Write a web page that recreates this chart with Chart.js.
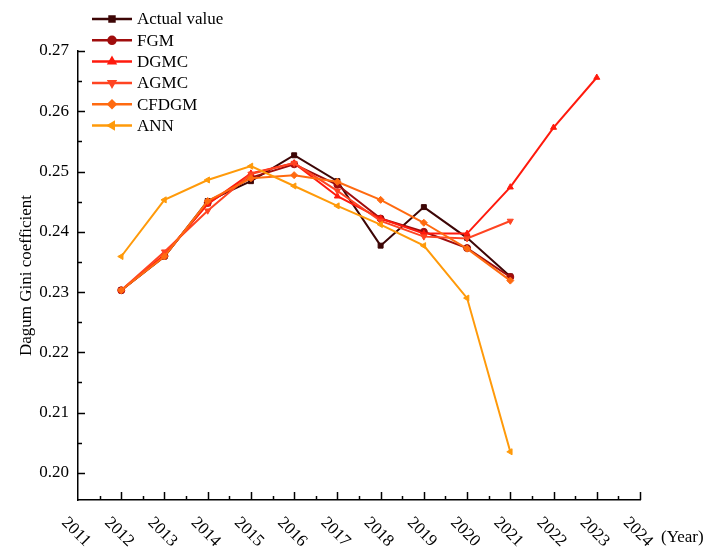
<!DOCTYPE html>
<html>
<head>
<meta charset="utf-8">
<script src="https://cdn.jsdelivr.net/npm/chart.js@4.4.0/dist/chart.umd.min.js"></script>
<style>
  html, body { margin: 0; padding: 0; background: #ffffff; }
  #wrap { width: 707px; height: 551px; }
</style>
</head>
<body>
<div id="wrap"><canvas id="chart" width="707" height="551"></canvas></div>
<script>
// Observed years and forecast horizon
const years = [2012, 2013, 2014, 2015, 2016, 2017, 2018, 2019, 2020, 2021];
const dgmcYears = [2012, 2013, 2014, 2015, 2016, 2017, 2018, 2019, 2020, 2021, 2022, 2023];

// Dagum Gini coefficient: observed values and model fits
const actualValue = [0.2303, 0.2359, 0.2451, 0.2484, 0.2527, 0.2484, 0.2377, 0.2441, 0.2390, 0.2326];
const fgm         = [0.2303, 0.2360, 0.2448, 0.2490, 0.2512, 0.2478, 0.2422, 0.2400, 0.2373, 0.2325];
const dgmc        = [0.2303, 0.2362, 0.2446, 0.2497, 0.2514, 0.2459, 0.2422, 0.2397, 0.2397, 0.2474, 0.2573, 0.2656];
const agmc        = [0.2303, 0.2367, 0.2435, 0.2496, 0.2514, 0.2468, 0.2418, 0.2392, 0.2389, 0.2418];
const cfdgm       = [0.2303, 0.2359, 0.2451, 0.2489, 0.2494, 0.2483, 0.2453, 0.2415, 0.2372, 0.2319];
const ann         = [0.2359, 0.2453, 0.2486, 0.2509, 0.2476, 0.2443, 0.2412, 0.2377, 0.2290, 0.2035];

// Axis labels
const xTickLabels = ['2011', '2012', '2013', '2014', '2015', '2016', '2017',
                     '2018', '2019', '2020', '2021', '2022', '2023', '2024'];
const xUnitLabel = '(Year)';
const yTitle = 'Dagum Gini coefficient';

const SERIF = '"Liberation Serif", "Times New Roman", serif';

function pts(xs, ys) { return ys.map((v, i) => ({ x: xs[i], y: v })); }

function series(label, xs, ys, color, style, rotation, order) {
  return {
    label,
    data: pts(xs, ys),
    borderColor: color,
    backgroundColor: color,
    borderWidth: 2,
    pointStyle: style,
    pointRotation: rotation,
    pointRadius: 3.5,
    pointBorderWidth: 1,
    pointBackgroundColor: color,
    pointBorderColor: color,
    tension: 0,
    clip: false,
    order
  };
}

const datasets = [
  series('Actual value', years, actualValue, '#3d0606', 'rect', 0, 5),
  series('FGM', years, fgm, '#a00d0d', 'circle', 0, 4),
  series('DGMC', dgmcYears, dgmc, '#ff1a0d', 'triangle', 0, 3),
  series('AGMC', years, agmc, '#ff4422', 'triangle', 180, 2),
  series('CFDGM', years, cfdgm, '#ff6a10', 'rectRot', 0, 1),
  series('ANN', years, ann, '#ff9a0a', 'triangle', -90, 0)
];

// Inward tick marks, slanted year labels and the line+marker legend
const decor = {
  id: 'decor',
  afterDraw(chart) {
    const ctx = chart.ctx;
    const xs = chart.scales.x, ys = chart.scales.y;
    const area = chart.chartArea;
    ctx.save();
    ctx.strokeStyle = '#000';
    ctx.lineWidth = 1.5;

    // y ticks (major every 0.01, minor every 0.005), pointing into the plot
    for (let i = 0; i <= 14; i++) {
      const v = 0.20 + i * 0.005;
      const py = Math.round(ys.getPixelForValue(v)) + 0.5;
      const len = i % 2 === 0 ? 7 : 4;
      ctx.beginPath();
      ctx.moveTo(area.left, py);
      ctx.lineTo(area.left + len, py);
      ctx.stroke();
    }
    // x ticks (major every year, minor every half year), pointing up
    for (let i = 1; i <= 26; i++) {
      const v = 2011 + i * 0.5;
      const px = Math.round(xs.getPixelForValue(v)) + 0.5;
      const len = i % 2 === 0 ? 8 : 4;
      ctx.beginPath();
      ctx.moveTo(px, area.bottom);
      ctx.lineTo(px, area.bottom - len);
      ctx.stroke();
    }

    // slanted year labels
    ctx.fillStyle = '#000';
    ctx.font = '17px ' + SERIF;
    ctx.textAlign = 'center';
    ctx.textBaseline = 'middle';
    xTickLabels.forEach((lab, i) => {
      const px = xs.getPixelForValue(2011 + i);
      ctx.save();
      ctx.translate(px - 2, area.bottom + 32);
      ctx.rotate(Math.PI / 4);
      ctx.fillText(lab, 0, 0);
      ctx.restore();
    });
    ctx.textAlign = 'left';
    ctx.fillText(xUnitLabel, xs.getPixelForValue(2024) + 21, area.bottom + 38);

    // legend
    const lx = 92, ly = 19, gap = 21.3;
    chart.data.datasets.forEach((ds, i) => {
      const y = ly + i * gap;
      ctx.strokeStyle = ds.borderColor;
      ctx.lineWidth = 2.5;
      ctx.beginPath();
      ctx.moveTo(lx, y);
      ctx.lineTo(lx + 40, y);
      ctx.stroke();
      ctx.fillStyle = ds.borderColor;
      Chart.helpers.drawPoint(ctx, {
        pointStyle: ds.pointStyle,
        rotation: ds.pointRotation,
        radius: 3.5,
        borderWidth: 1
      }, lx + 20, y);
      ctx.fillStyle = '#000';
      ctx.font = '17px ' + SERIF;
      ctx.textAlign = 'left';
      ctx.textBaseline = 'middle';
      ctx.fillText(ds.label, lx + 45, y + 1);
    });
    ctx.restore();
  }
};

new Chart(document.getElementById('chart'), {
  type: 'line',
  data: { datasets },
  options: {
    responsive: false,
    animation: false,
    devicePixelRatio: 1,
    layout: { padding: { left: 0, right: 67, top: 51, bottom: 0 } },
    plugins: { legend: { display: false }, tooltip: { enabled: false } },
    elements: { line: { borderJoinStyle: 'miter' } },
    scales: {
      x: {
        type: 'linear',
        min: 2011,
        max: 2024,
        ticks: { display: false, stepSize: 1 },
        grid: { display: false, drawTicks: false },
        border: { display: true, color: '#000', width: 1.5 },
        afterFit(scale) { scale.height = 51; }
      },
      y: {
        type: 'linear',
        min: 0.1955,
        max: 0.27,
        ticks: {
          stepSize: 0.01,
          includeBounds: false,
          padding: 9,
          color: '#000',
          font: { family: SERIF, size: 17 },
          callback: (v) => v.toFixed(2)
        },
        grid: { display: false, drawTicks: false },
        border: { display: true, color: '#000', width: 1.5 },
        title: {
          display: true,
          text: yTitle,
          color: '#000',
          font: { family: SERIF, size: 17 },
          padding: { top: 16, bottom: 0 }
        },
        afterFit(scale) { scale.width = 78; }
      }
    }
  },
  plugins: [decor]
});
</script>
</body>
</html>
